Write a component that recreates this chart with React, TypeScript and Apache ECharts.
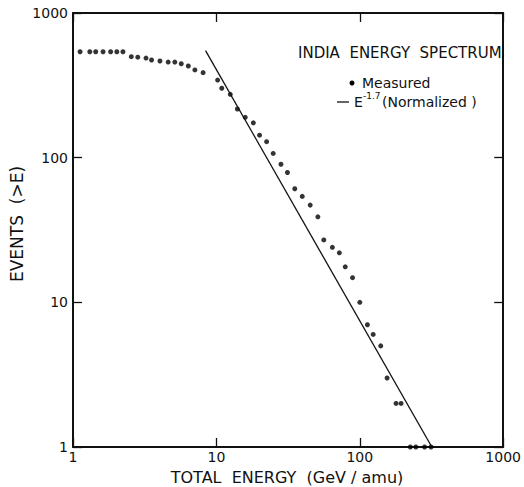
import React, { useEffect, useRef } from "react";
import * as echarts from "echarts";

const measuredEnergy = [
  1.12, 1.31, 1.44, 1.62, 1.83, 2.02, 2.23, 2.55, 2.83, 3.23, 3.53, 4.04, 4.61, 5.13,
  5.69, 6.37, 7.08, 8.08, 10.2, 10.9, 12.5, 14.0, 15.9, 18.1, 20.0, 22.4, 24.9, 28.2,
  31.3, 35.2, 39.7, 45.1, 51.0, 56.1, 64.4, 72.0, 79.2, 89.0, 100, 113, 124, 140, 155,
  179, 194, 225, 246, 283, 314,
];
const measuredEvents = [
  540, 540, 540, 540, 540, 540, 540, 499, 495, 488, 473, 466, 458, 458,
  446, 430, 404, 387, 344, 302, 274, 217, 190, 174, 143, 129, 107, 90,
  79, 61, 54, 47, 39, 27, 24, 22, 17.6, 14.8, 10, 7, 6, 5, 3,
  2, 2, 1, 1, 1, 1,
];
const fitEnergy = [8.4, 318];
const fitEvents = [549, 1];
const tickLabels = ["1", "10", "100", "1000"];

const FONT = "DejaVu Sans";
const INK = "#111";

export default function App() {
  const ref = useRef<HTMLDivElement>(null);
  useEffect(() => {
    if (!ref.current) return;
    const chart = echarts.init(ref.current, undefined, { renderer: "svg" });
    const axisCommon = {
      type: "log" as const,
      logBase: 10,
      min: 1,
      max: 1000,
      axisLine: { show: true, lineStyle: { color: INK, width: 2 } },
      axisTick: { show: true, inside: true, length: 9, lineStyle: { color: INK, width: 1.3 } },
      minorTick: { show: false },
      splitLine: { show: false },
    };
    const labelFmt = (v: number) => tickLabels[Math.round(Math.log10(v))] ?? "";
    const txt = (text: string, x: number, y: number, size: number, extra: any = {}) => ({
      type: "text",
      x,
      y,
      ...extra,
      style: {
        text,
        font: `${size}px "${FONT}"`,
        fill: INK,
        align: extra.align ?? "left",
        verticalAlign: "middle",
      },
    });
    chart.setOption({
      animation: false,
      backgroundColor: "#fff",
      grid: { left: 73, right: 17, top: 13, bottom: 40 },
      xAxis: [
        {
          ...axisCommon,
          position: "bottom",
          axisLabel: { fontFamily: FONT, fontSize: 14, color: INK, margin: 3, formatter: labelFmt },
        },
        { ...axisCommon, position: "top", axisLabel: { show: false } },
      ],
      yAxis: [
        {
          ...axisCommon,
          position: "left",
          axisLabel: { fontFamily: FONT, fontSize: 14, color: INK, margin: 5, formatter: labelFmt },
        },
        { ...axisCommon, position: "right", axisLabel: { show: false } },
      ],
      series: [
        {
          type: "scatter",
          xAxisIndex: 0,
          yAxisIndex: 0,
          symbol: "circle",
          symbolSize: 5,
          itemStyle: { color: "#000" },
          data: measuredEnergy.map((e, i) => [e, measuredEvents[i]]),
        },
        {
          type: "line",
          xAxisIndex: 0,
          yAxisIndex: 0,
          showSymbol: false,
          lineStyle: { color: INK, width: 1.3 },
          data: fitEnergy.map((e, i) => [e, fitEvents[i]]),
        },
      ],
      graphic: [
        txt("TOTAL  ENERGY  (GeV / amu)", 287, 477, 16, { align: "center" }),
        txt("EVENTS  (>E)", 17, 224, 17, { align: "center", rotation: Math.PI / 2 }),
        txt("INDIA  ENERGY  SPECTRUM", 298, 53, 15),
        { type: "circle", shape: { cx: 352, cy: 83, r: 2.5 }, style: { fill: "#000" } },
        txt("Measured", 362, 83, 14),
        {
          type: "line",
          shape: { x1: 337, y1: 102, x2: 349, y2: 102 },
          style: { stroke: INK, lineWidth: 1.3 },
        },
        txt("E", 354, 102, 14),
        txt("-1.7", 363, 96, 9),
        txt("(Normalized )", 382, 102, 14),
      ],
    });
    return () => chart.dispose();
  }, []);
  return (
    <div
      ref={ref}
      style={{ position: "fixed", left: 0, top: 0, width: 524, height: 487 }}
    />
  );
}
